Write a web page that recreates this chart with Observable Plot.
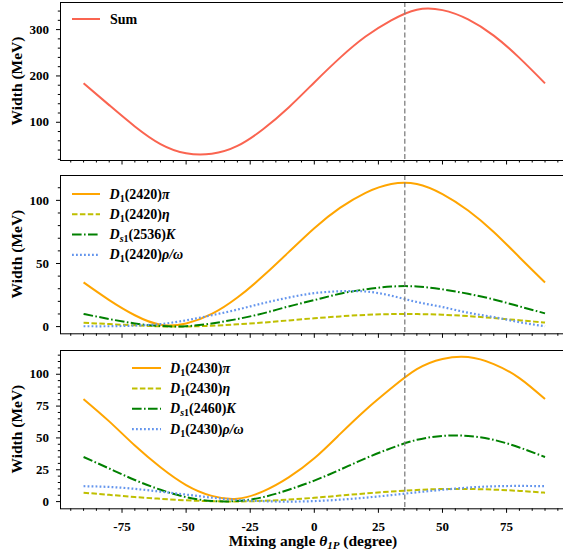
<!DOCTYPE html>
<html><head><meta charset="utf-8">
<script src="https://cdn.jsdelivr.net/npm/d3@7"></script>
<script src="https://cdn.jsdelivr.net/npm/@observablehq/plot@0.6"></script>
<style>
body{margin:0;background:#fff}
#chart{position:relative;width:563px;height:559px;overflow:hidden;background:#fff}
#chart svg{position:absolute;left:0}
</style>
</head><body><div id="chart"></div>
<script>
// ---------------- data ----------------
const angles = [-90,-80,-70,-60,-50,-40,-30,-20,-10,0,10,20,30,40,50,60,70,80,90];
const idealAngle = 35.3;

const sumWidth  = [184,137,91,53,33,32,49,85,132,186,239,285,320,343,342,322,287,239,184];

const d2420pi   = [35,21,9,1.5,2.5,10,23,40,59,78,94,106,113,113,105,92,75,55,35];
const d2420eta  = [3,2,1,0.2,0.1,0.7,1.8,3.2,4.9,6.6,8.1,9.3,9.9,9.9,9.4,8.3,6.8,5,3.2];
const ds2536K   = [10,6,2.5,0.5,0.3,2.5,6,10.5,16,21,26,29.5,31.7,31.8,29.5,26,21.5,16,10.5];
const d2420rho  = [0.3,0.3,0.8,2,5,9,13.5,18.5,23,26.5,28,27.8,24.5,19.5,15.5,11,7.5,3.5,0.3];

const d2430pi   = [80.5,63,44,27,13,4.5,2.3,8,19,34,53,72,89,104,112,113.5,108,97,80.5];
const d2430eta  = [7,5.3,3.6,2.2,1,0.3,0.1,0.6,1.6,3,4.7,6.4,7.9,9.1,9.9,9.9,9.4,8.4,7];
const ds2460K   = [35,26,17,9.3,3.5,0.5,0.5,3.5,9.3,16.5,25,34,42,48.5,51.6,51.6,48.5,42.5,35];
const d2430rho  = [12.1,11.5,10,7.8,5.5,3.1,1.3,0.3,0,0.4,1.5,3.1,5.1,7.3,9.3,11,12,12.3,12.1];

// legend labels: [italic base, subscript, upright middle, italic tail]
const panel1Labels = [["Sum","","",""]];
const panel2Labels = [["D","1","(2420)","π"],["D","1","(2420)","η"],["D","s1","(2536)","K"],["D","1","(2420)","ρ/ω"]];
const panel3Labels = [["D","1","(2430)","π"],["D","1","(2430)","η"],["D","s1","(2460)","K"],["D","1","(2430)","ρ/ω"]];

const xMajor = [-75,-50,-25,0,25,50,75];
const xMinor = [-95,-90,-85,-80,-70,-65,-60,-55,-45,-40,-35,-30,-20,-15,-10,-5,5,10,15,20,30,35,40,45,55,60,65,70,80,85,90,95];
const y1Major = [100,200,300];
const y1Minor = [20,40,60,80,120,140,160,180,220,240,260,280,320,340];
const y2Major = [0,50,100];
const y2Minor = [10,20,30,40,60,70,80,90,110];
const y3Major = [0,25,50,75,100];
const y3Minor = [5,10,15,20,30,35,40,45,55,60,65,70,80,85,90,95,105,110,115];

// ---------------- styles ----------------
const FONT = "'Liberation Serif','Times New Roman',serif";
const styles = [
  {color:"#ffa500", dash:null, w:2},
  {color:"#bfbf00", dash:"5.5,2.4", w:2},
  {color:"#008000", dash:"9.6,2.4,1.6,2.4", w:2},
  {color:"#6495ed", dash:"1.8,2.2", w:2.2}
];
const sumStyle = {color:"#fa6450", dash:null, w:2};

const rows = vals => angles.map((a,i)=>({angle:a, width:vals[i]}));
const chart = document.getElementById("chart");

function panel(o){
  const marks = [
    ...o.series.map(s => Plot.line(rows(s.values), {
      x:"angle", y:"width", stroke:s.color, strokeWidth:s.w,
      strokeDasharray:s.dash || undefined, strokeLinecap:"butt", curve:"natural"
    })),
    Plot.ruleX([idealAngle], {stroke:"#7f7f7f", strokeWidth:1.3, strokeDasharray:"5,2.6"}),
    Plot.frame({stroke:"black", strokeWidth:1}),
    Plot.axisY(o.yMinor, {tickSize:2.2, tickFormat:()=>"", label:null}),
    Plot.axisY(o.yMajor, {tickSize:4, tickPadding:7.5, tickFormat:d=>String(d), label:null}),
    Plot.axisX(xMinor, {tickSize:2.5, tickFormat:()=>"", label:null}),
    Plot.axisX(xMajor, {tickSize:4.5, tickPadding:8, tickFormat: o.xLabels ? (d=>String(d)) : (()=>""), label:null})
  ];
  const svg = Plot.plot({
    width:563, height:o.height,
    marginLeft:60, marginRight:-4.6, marginTop:o.mt, marginBottom:o.mb,
    x:{domain:[-99,99]},
    y:{domain:o.yDomain},
    style:{fontFamily:FONT, fontSize:"13px", fontWeight:"bold", color:"black", background:"transparent", overflow:"hidden"},
    marks
  });
  svg.style.top = o.top + "px";
  chart.appendChild(svg);
  const s = d3.select(svg);
  // y label
  const frameMid = o.mt + (o.height - o.mt - o.mb)/2;
  s.append("text")
    .attr("transform", `translate(16.5,${frameMid}) rotate(-90)`)
    .attr("text-anchor","middle").attr("dominant-baseline","central")
    .style("font-family",FONT).style("font-weight","bold").style("font-size","15.5px")
    .attr("fill","black").text("Width (MeV)");
  // legend
  const g = s.append("g").attr("text-anchor","start");
  o.labels.forEach((lab,i)=>{
    const st = o.series[i];
    const y = o.legY + i*o.legDy;
    g.append("line").attr("x1",o.legX0).attr("x2",o.legX1).attr("y1",y).attr("y2",y)
      .attr("stroke",st.color).attr("stroke-width",st.w)
      .attr("stroke-dasharray",st.dash || null);
    const t = g.append("text").attr("x",o.legX0 + (o.legText)).attr("y",y+4.5)
      .attr("text-anchor","start")
      .style("font-family",FONT).style("font-weight","bold").style("font-size","14px")
      .attr("fill","black");
    if (!lab[1]) { t.append("tspan").text(lab[0]); return; }
    t.append("tspan").style("font-style","italic").text(lab[0]);
    const sub = lab[1];
    if (sub.length > 1) {
      t.append("tspan").attr("dy",3).style("font-size","10px").style("font-style","italic").text(sub[0]);
      t.append("tspan").style("font-size","10px").text(sub.slice(1));
    } else {
      t.append("tspan").attr("dy",3).style("font-size","10px").text(sub);
    }
    t.append("tspan").attr("dy",-3).text(lab[2]);
    t.append("tspan").style("font-style","italic").text(lab[3]);
  });
  return s;
}

panel({top:0, height:170, mt:2, mb:10, yDomain:[17.5,358.5], yMajor:y1Major, yMinor:y1Minor,
  series:[{values:sumWidth, ...sumStyle}], labels:panel1Labels,
  legX0:72, legX1:100, legText:38, legY:19, legDy:20, xLabels:false});

panel({top:170, height:170, mt:5, mb:6.7, yDomain:[-5.7,119.7], yMajor:y2Major, yMinor:y2Minor,
  series:[d2420pi,d2420eta,ds2536K,d2420rho].map((v,i)=>({values:v, ...styles[i]})), labels:panel2Labels,
  legX0:72, legX1:100, legText:37.5, legY:24, legDy:20.3, xLabels:false});

const p3 = panel({top:340, height:219, mt:10, mb:50.7, yDomain:[-5.65,118.65], yMajor:y3Major, yMinor:y3Minor,
  series:[d2430pi,d2430eta,ds2460K,d2430rho].map((v,i)=>({values:v, ...styles[i]})), labels:panel3Labels,
  legX0:132, legX1:161, legText:38, legY:28, legDy:20.4, xLabels:true});

// x axis label
const xl = p3.append("text").attr("x",313).attr("y",206).attr("text-anchor","middle")
  .style("font-family",FONT).style("font-weight","bold").style("font-size","15.5px").attr("fill","black");
xl.append("tspan").text("Mixing angle ");
xl.append("tspan").style("font-style","italic").text("θ");
xl.append("tspan").attr("dy",3).style("font-size","11px").style("font-style","italic").text("1P");
xl.append("tspan").attr("dy",-3).text(" (degree)");
</script>
</body></html>
